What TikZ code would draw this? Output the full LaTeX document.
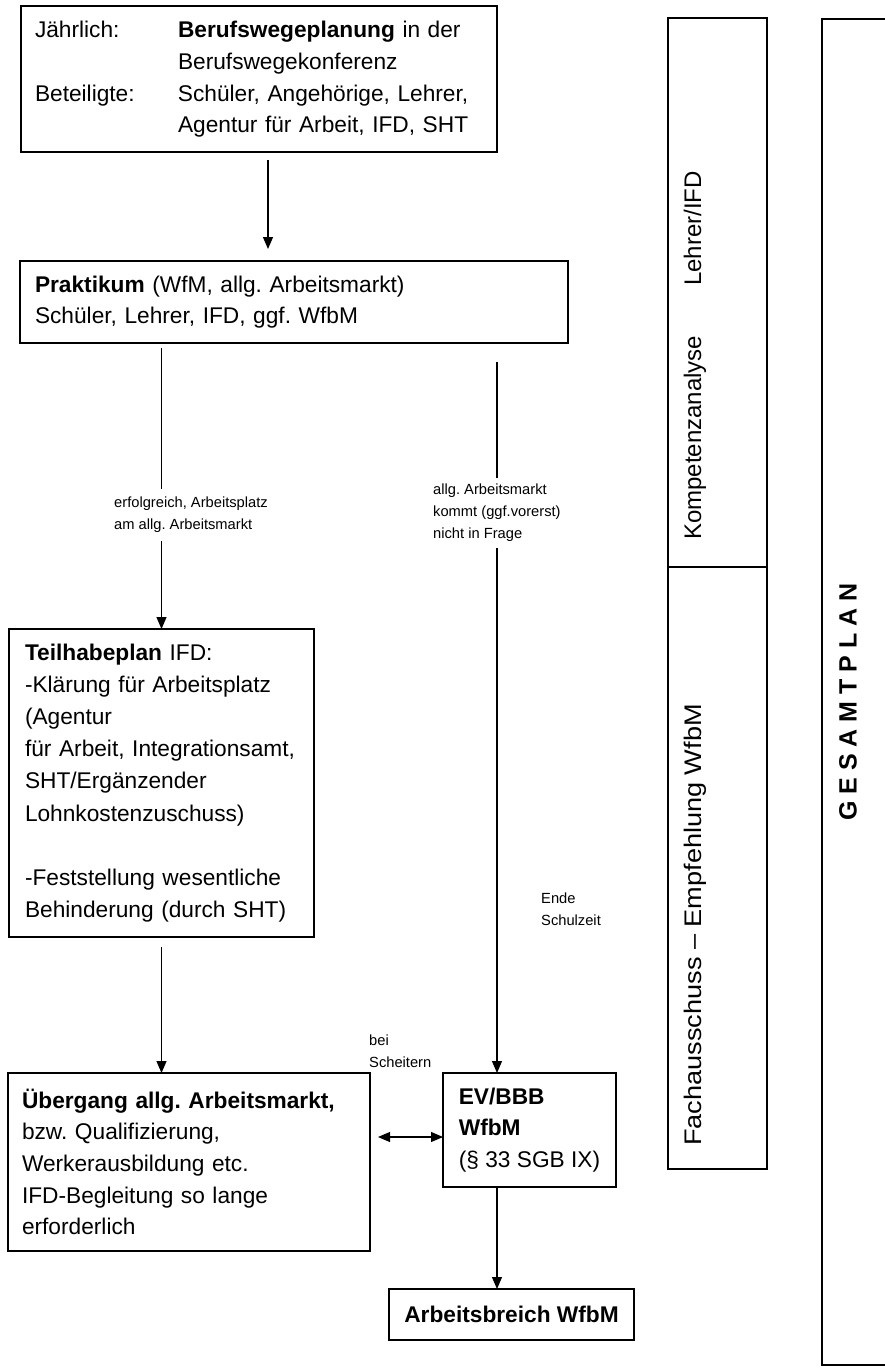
\documentclass[tikz,border=0pt]{standalone}
\usepackage{fontspec}
\setmainfont{Liberation Sans}
\usetikzlibrary{arrows.meta}
\frenchspacing
\begin{document}
\begin{tikzpicture}[x=1pt,y=-1pt,
  box/.style={draw, line width=1.2pt, rectangle, outer sep=0pt, inner ysep=0pt, anchor=north west, align=left, font=\fontsize{22.7}{31.7}\selectfont},
  conn/.style={line width=1.2pt, -{Triangle[width=10pt,length=12pt]}},
  dconn/.style={line width=1.2pt, {Triangle[width=10pt,length=12pt]}-{Triangle[width=10pt,length=12pt]}},
  plain/.style={line width=1.2pt},
  lab/.style={align=left, inner xsep=0pt, anchor=north west, font=\fontsize{14.7}{22}\selectfont},
  frame/.style={draw, line width=1.2pt, outer sep=0pt, inner sep=0pt, anchor=north west},
  vtxt/.style={rotate=90, anchor=base west, inner sep=0pt, font=\fontsize{24}{28}\selectfont},
]
\useasboundingbox (0,0) rectangle (884,1371);
\fill[white] (0,0) rectangle (884,1371);

% left flow
\node[box, minimum width=476pt, minimum height=146pt, inner xsep=14pt, text width=448pt] (b1) at (21,6)
  {\begin{tabular}{@{}p{143pt}@{}l@{}}Jährlich: & \textbf{Berufswegeplanung} in der\\ & Berufswegekonferenz\\ Beteiligte: & Schüler, Angehörige, Lehrer,\\ & Agentur für Arbeit, IFD, SHT\end{tabular}};

\node[box, minimum width=548pt, minimum height=82pt, inner xsep=15pt, text width=518pt] (b2) at (20,261)
  {\textbf{Praktikum} (WfM, allg. Arbeitsmarkt)\\Schüler, Lehrer, IFD, ggf. WfbM};

\node[box, minimum width=305pt, minimum height=308pt, inner xsep=16pt, text width=273pt, font=\fontsize{22.7}{32.2}\selectfont] (tb) at (9,629)
  {\textbf{Teilhabeplan} IFD:\\-Klärung für Arbeitsplatz\\(Agentur\\für Arbeit, Integrationsamt,\\SHT/Ergänzender\\Lohnkostenzuschuss)\\[32.2pt]-Feststellung wesentliche\\Behinderung (durch SHT)};

\node[box, minimum width=362pt, minimum height=178pt, inner xsep=14pt, text width=334pt] (ub) at (8,1073)
  {\textbf{Übergang allg. Arbeitsmarkt,}\\bzw. Qualifizierung,\\Werkerausbildung etc.\\IFD-Begleitung so lange\\erforderlich};

\node[box, minimum width=173pt, minimum height=114pt, inner xsep=0pt] (ev) at (443,1073)
  {\textbf{EV/BBB}\\\textbf{WfbM}\\(§ 33 SGB IX)};

\node[box, minimum width=245pt, minimum height=51pt, align=center] (ab) at (389,1289)
  {\textbf{Arbeitsbreich WfbM}};

% labels
\node[lab, inner ysep=8pt] (l1) at (114,489) {erfolgreich, Arbeitsplatz\\am allg. Arbeitsmarkt};
\node[lab, inner ysep=6pt] (l2) at (433,478) {allg. Arbeitsmarkt\\kommt (ggf.vorerst)\\nicht in Frage};
\node[lab, inner ysep=0pt] (l3) at (369,1035) {bei\\Scheitern};
\node[lab, inner ysep=0pt] (l4) at (541,893) {Ende\\Schulzeit};

% connectors
\draw[conn] ([xshift=9pt,yshift=-8pt]b1.south) -- ([xshift=9pt,yshift=12pt]b1.south |- b2.north);
\draw[plain] ([yshift=-5pt]b2.south -| tb.north) -- (l1.north -| tb.north);
\draw[conn] (l1.south -| tb.north) -- (tb.north);
\draw[conn] ([yshift=-10pt]tb.south) -- (tb.south |- ub.north);
\coordinate (rx) at (497,362);
\draw[plain] (rx) -- (rx |- l2.north);
\draw[conn] (rx |- l2.south) -- (rx |- ev.north);
\draw[conn] (rx |- ev.south) -- (rx |- ab.north);
\coordinate (dy) at ([yshift=-7pt]ev.west);
\draw[dconn] ([xshift=8pt]ub.east |- dy) -- (dy);

% right side
\node[frame, minimum width=99pt, minimum height=549pt] (k1) at (668,18) {};
\node[frame, minimum width=99pt, minimum height=602pt] (k2) at (668,567) {};
\node[vtxt] (t1) at (701,540) {Kompetenzanalyse\hspace{50pt}Lehrer/IFD};
\node[vtxt] (t2) at (701,1146) {\scalebox{1.13}[1]{Fachausschuss – Empfehlung WfbM}};
\node[frame, minimum width=90pt, minimum height=1346pt] (g) at (822,19) {};
\node[rotate=90, inner sep=0pt, font=\bfseries\fontsize{25}{30}\selectfont] (gt) at (848,702) {G E S A M T P L A N};
\end{tikzpicture}
\end{document}
